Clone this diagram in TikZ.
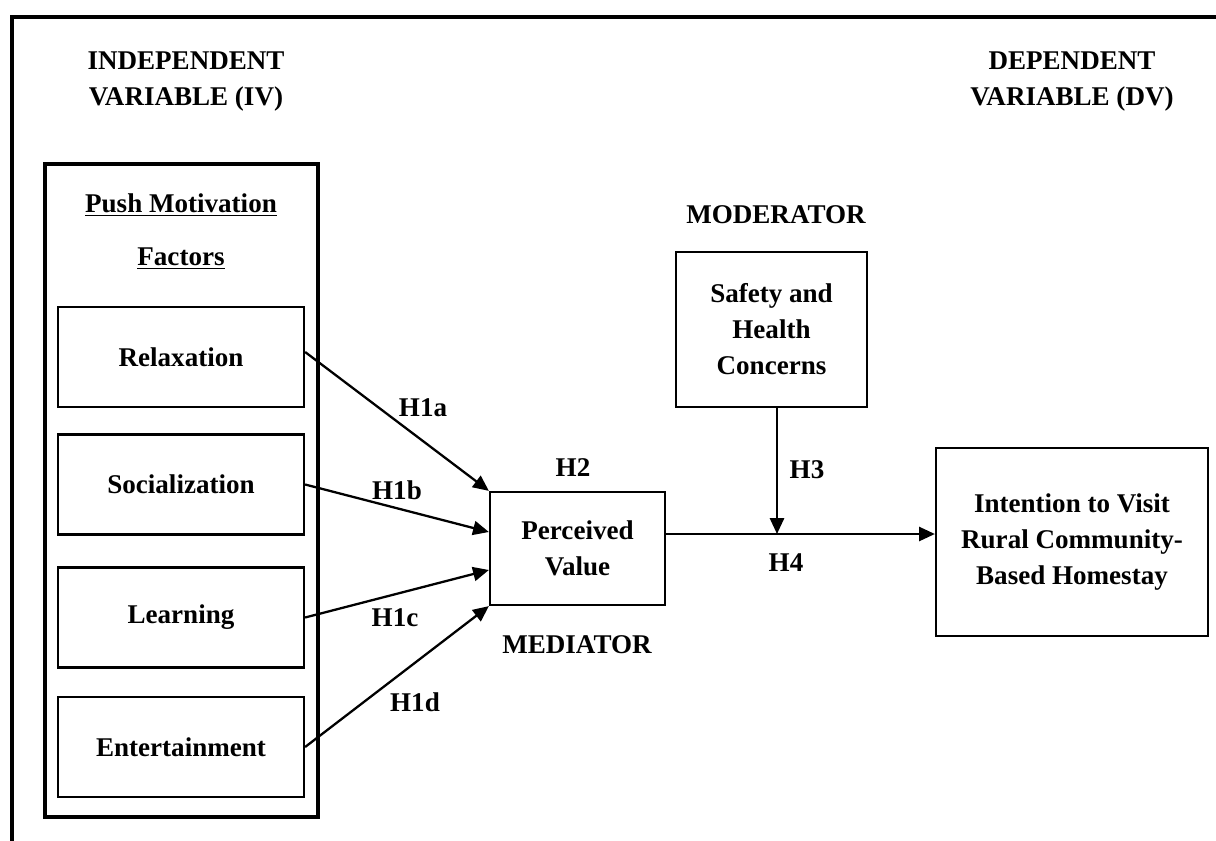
\documentclass[tikz,border=0pt]{standalone}
\usepackage{fontspec}
\setmainfont{Liberation Serif}
\usepackage{tikz}
\usetikzlibrary{
  positioning,
  arrows.meta
}

\tikzset{
  factor/.style={draw, line width=1.3pt, minimum width=4.92cm, minimum height=2cm},
  varbox/.style={draw, line width=1.3pt},
}

\begin{document}
\begin{tikzpicture}[x=0.02cm,y=-0.02cm,>={Triangle[length=9pt,width=8pt]},
    every node/.append style={align=center, font=\fontsize{15.4pt}{20.5pt}\selectfont\bfseries}]
        \useasboundingbox (0,0) rectangle (1216,841);
        % frame
        \draw[line width=2pt] (12,841) -- (12,17) -- (1216,17);
        % titles
        \node (ivtitle) at (186,82) {INDEPENDENT\\VARIABLE (IV)};
        \node (dvtitle) at (1072,82) {DEPENDENT\\VARIABLE (DV)};
        % push factors
        \node[draw, line width=1.8pt, minimum width=5.46cm, minimum height=13.06cm] (push) at (181.5,490.5) {};
        \node (pushhead) at (181,205) {\underline{Push Motivation}};
        \node (pushfact) at (181,259) {\underline{Factors}};
        \node[factor] (relax) at (181,357) {Relaxation};
        \node[factor] (social) at (181,484.5) {Socialization};
        \node[factor] (learn) at (181,617.5) {Learning};
        \node[factor] (enter) at (181,747) {Entertainment};
        % mediator, moderator, outcome
        \node[varbox, minimum width=3.5cm, minimum height=2.26cm] (value) at (577.5,548.5) {Perceived\\Value};
        \node (mediator) at (577,645) {MEDIATOR};
        \node[varbox, minimum width=3.82cm, minimum height=3.1cm] (safety) at (771.5,329.5) {Safety and\\Health\\Concerns};
        \node (moderator) at (776,215) {MODERATOR};
        \node[varbox, minimum width=5.44cm, minimum height=3.76cm] (intent) at (1072,542) {Intention to Visit\\Rural Community-\\Based Homestay};
        % paths
        \draw[->, line width=1.3pt] ([yshift=0.1cm]relax.east) -- (value.north west);
        \draw[->, line width=1.3pt] (social.east) -- ([yshift=0.33cm]value.west);
        \draw[->, line width=1.3pt] (learn.east) -- ([yshift=-0.43cm]value.west);
        \draw[->, line width=1.3pt] (enter.east) -- (value.south west);
        \coordinate (junc) at (777,534);
        \draw[->, line width=1.3pt] (value.east |- junc) -- (junc -| intent.west);
        \draw[->, line width=1.3pt] (safety.south -| junc) -- (junc);
        % hypotheses
        \node (h1a) at (423,408) {H1a};
        \node (h1b) at (397,490) {H1b};
        \node (h1c) at (395,618) {H1c};
        \node (h1d) at (415,702) {H1d};
        \node (h2) at (573,468) {H2};
        \node (h3) at (807,470) {H3};
        \node (h4) at (786,563) {H4};
    \end{tikzpicture}
\end{document}
